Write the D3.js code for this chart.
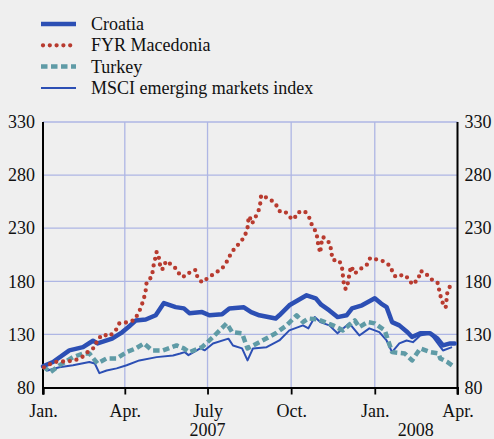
<!DOCTYPE html>
<html><head><meta charset="utf-8">
<script src="https://cdn.jsdelivr.net/npm/d3@7"></script>
<style>
html,body{margin:0;padding:0;background:#efefef;}
svg{display:block;font-family:"Liberation Serif","Times New Roman",serif;}
</style></head>
<body>
<svg id="chart" width="494" height="439"></svg>
<script>
const seriesNames = ["Croatia", "FYR Macedonia", "Turkey", "MSCI emerging markets index"];
const yTicks = [80, 130, 180, 230, 280, 330];
const xTickDates = ["2007-01-01","2007-04-01","2007-07-01","2007-10-01","2008-01-01","2008-04-01"];
const xTickLabels = ["Jan.","Apr.","July","Oct.","Jan.","Apr."];
const yearLabels = [["2007","2007-07-01"],["2008","2008-02-15"]];

const croatia = [
["2007-01-01",100],["2007-01-12",104],["2007-01-30",115],["2007-02-14",118],["2007-02-25",124],
["2007-03-02",121.5],["2007-03-18",126],["2007-03-29",132],["2007-04-05",137],["2007-04-13",143],
["2007-04-24",144],["2007-05-05",148],["2007-05-14",159.5],["2007-05-27",155.7],["2007-06-05",154.5],
["2007-06-11",150],["2007-06-25",151],["2007-07-03",148],["2007-07-17",149],["2007-07-25",154.5],
["2007-08-10",155.5],["2007-08-18",151],["2007-08-27",148],["2007-09-14",145],["2007-09-18",148],
["2007-09-29",157.4],["2007-10-18",166.8],["2007-10-28",164],["2007-11-03",158],["2007-11-12",152.6],
["2007-11-21",146.3],["2007-12-01",148],["2007-12-07",154.5],["2007-12-18",157.4],["2008-01-01",164],
["2008-01-08",159],["2008-01-14",155.7],["2008-01-20",141.6],["2008-01-28",138.5],["2008-02-06",132],
["2008-02-11",127.5],["2008-02-20",131],["2008-03-02",131],["2008-03-10",126],["2008-03-16",119.6],
["2008-03-24",121.5],["2008-03-29",121.5]
];
const macedonia = [
["2007-01-02",99],["2007-01-11",103],["2007-01-17",104.5],["2007-01-27",104.5],["2007-02-05",105.5],
["2007-02-13",108.6],["2007-02-19",113.3],["2007-02-27",118],["2007-03-02",125.2],["2007-03-08",130],
["2007-03-15",128.1],["2007-03-22",133.8],["2007-03-26",140.4],["2007-04-03",141.3],["2007-04-11",143.2],
["2007-04-16",149.8],["2007-04-19",156],["2007-04-22",163.7],["2007-04-24",171.5],["2007-04-25",179],
["2007-05-01",184.7],["2007-05-02",192.3],["2007-05-04",199.8],["2007-05-06",207.6],["2007-05-08",206],
["2007-05-09",198.2],["2007-05-11",191],["2007-05-14",192.3],["2007-05-16",198.9],["2007-05-23",195.4],
["2007-05-29",190.4],["2007-06-01",184.7],["2007-06-07",184.7],["2007-06-13",189.7],["2007-06-18",190.7],
["2007-06-20",183.5],["2007-06-25",179],["2007-07-02",183.5],["2007-07-09",187.5],["2007-07-17",192],
["2007-07-22",198.2],["2007-07-26",204.8],["2007-07-31",211.4],["2007-08-06",216.5],["2007-08-11",222.5],
["2007-08-14",230.3],["2007-08-15",238.2],["2007-08-16",241.3],["2007-08-19",234.4],["2007-08-22",239.2],
["2007-08-26",246],["2007-08-28",253.3],["2007-08-29",261.1],["2007-09-02",259.6],["2007-09-08",257.1],
["2007-09-14",252.7],["2007-09-18",246],["2007-09-24",246],["2007-09-30",240.1],["2007-10-04",238.2],
["2007-10-08",244.8],["2007-10-16",246],["2007-10-21",239.7],["2007-10-24",232.5],["2007-10-29",225.6],
["2007-10-30",218],["2007-11-01",210.2],["2007-11-02",206.7],["2007-11-03",214.9],["2007-11-05",221.8],
["2007-11-08",219.4],["2007-11-13",215.5],["2007-11-14",207.6],["2007-11-16",200],["2007-11-23",199.5],
["2007-11-26",192.5],["2007-11-27",184.7],["2007-11-28",177.2],["2007-11-30",172.5],["2007-12-03",179.7],
["2007-12-04",187.3],["2007-12-06",194.2],["2007-12-10",187.3],["2007-12-15",191],["2007-12-23",195.1],
["2007-12-27",202],["2008-01-04",200.4],["2008-01-11",198.7],["2008-01-18",194.4],["2008-01-21",187.8],
["2008-01-24",184.1],["2008-02-02",186.3],["2008-02-08",181.9],["2008-02-11",176.9],["2008-02-18",181.9],
["2008-02-20",189.7],["2008-02-25",188.5],["2008-03-02",182.5],["2008-03-10",178.8],["2008-03-12",171.2],
["2008-03-14",163.7],["2008-03-17",156.7],["2008-03-19",155.2],["2008-03-20",163],["2008-03-21",170.6],
["2008-03-24",175.6],["2008-03-30",174.6]
];
const turkey = [
["2007-01-01",100],["2007-01-09",94.4],["2007-01-19",100.8],["2007-02-03",108.6],["2007-02-14",112],
["2007-02-21",112],["2007-03-02",102.6],["2007-03-12",107.4],["2007-03-23",107.4],["2007-04-03",113.3],
["2007-04-13",116.8],["2007-04-22",121.5],["2007-05-01",114.9],["2007-05-13",114.9],["2007-05-28",119.6],
["2007-06-05",116.8],["2007-06-11",113.3],["2007-06-25",118],["2007-07-07",127.5],["2007-07-22",140.4],
["2007-07-28",132.2],["2007-08-08",131],["2007-08-14",116.8],["2007-08-27",122.7],["2007-09-14",131],
["2007-09-26",138.5],["2007-10-07",148],["2007-10-14",141.6],["2007-10-20",145],["2007-10-31",144],
["2007-11-16",138.5],["2007-11-27",133.8],["2007-12-10",143.2],["2007-12-15",136.9],["2007-12-24",141.6],
["2008-01-01",140.4],["2008-01-12",133.8],["2008-01-20",113.3],["2008-02-03",112],["2008-02-11",105.5],
["2008-02-20",116.8],["2008-03-02",113.3],["2008-03-11",112],["2008-03-13",107.4],["2008-03-21",103.9],
["2008-03-29",99.1]
];
const msci = [
["2007-01-01",100],["2007-01-06",96],["2007-01-19",99],["2007-02-03",101],["2007-02-21",104],
["2007-02-27",102.6],["2007-03-04",93.5],["2007-03-12",96],["2007-03-23",98],["2007-04-03",101],
["2007-04-17",105.5],["2007-05-06",108.6],["2007-05-24",110.2],["2007-06-01",112],["2007-06-06",113.3],
["2007-06-10",110.5],["2007-06-23",116.8],["2007-06-28",115],["2007-07-07",121.5],["2007-07-24",126],
["2007-07-29",119.6],["2007-08-08",116.8],["2007-08-14",105.5],["2007-08-20",116.8],["2007-09-04",118],
["2007-09-18",124.3],["2007-09-29",133.8],["2007-10-14",138.5],["2007-10-20",135.7],["2007-10-27",146.3],
["2007-11-02",141.6],["2007-11-12",138.5],["2007-11-21",131],["2007-12-04",140.4],["2007-12-15",129],
["2007-12-26",135.7],["2008-01-06",132.2],["2008-01-14",124.3],["2008-01-20",113.3],["2008-01-28",121.5],
["2008-02-05",124.3],["2008-02-12",122.7],["2008-02-20",129],["2008-03-02",131],["2008-03-16",114.9],
["2008-03-26",118]
];

(function () {
const parse = d3.timeParse("%Y-%m-%d");
const svg = d3.select("#chart");
const W = 494, H = 439;
svg.append("rect").attr("width", W).attr("height", H).attr("fill", "#efefef");

const pL = 43, pR = 457.5, pT = 122, pB = 387.5;
const x = d3.scaleTime().domain([parse("2007-01-01"), parse("2008-04-01")]).range([pL, pR]);
const y = d3.scaleLinear().domain([80, 330]).range([pB, pT]);

const gridColor = "#aeb6e4";
svg.append("g").selectAll("line").data(yTicks.filter(v => v > 80)).join("line")
  .attr("x1", pL).attr("x2", pR).attr("y1", d => y(d)).attr("y2", d => y(d))
  .attr("stroke", gridColor).attr("stroke-width", 1.3);
svg.append("g").selectAll("line").data(xTickDates.slice(1, 5)).join("line")
  .attr("x1", d => x(parse(d))).attr("x2", d => x(parse(d))).attr("y1", pT).attr("y2", pB)
  .attr("stroke", gridColor).attr("stroke-width", 1.3);

const yAxisL = d3.axisLeft(y).tickValues(yTicks).tickSize(0).tickPadding(8);
const gL = svg.append("g").attr("transform", `translate(${pL},0)`).call(yAxisL);
const yAxisR = d3.axisRight(y).tickValues(yTicks).tickSize(0).tickPadding(7);
const gR = svg.append("g").attr("transform", `translate(${pR},0)`).call(yAxisR);
const xAxis = d3.axisBottom(x).tickValues(xTickDates.map(parse)).tickSize(7).tickPadding(6)
  .tickFormat((d, i) => xTickLabels[i]);
const gX = svg.append("g").attr("transform", `translate(0,${pB})`).call(xAxis);
[gL, gR, gX].forEach(g => {
  g.select(".domain").attr("stroke", "#000").attr("stroke-width", 2);
  g.selectAll(".tick line").attr("stroke", "#000").attr("stroke-width", 1.8);
  g.selectAll("text").attr("fill", "#111").attr("font-size", 18)
    .attr("font-family", '"Liberation Serif","Times New Roman",serif');
});
gL.select(".domain").attr("d", `M0,${pT}V${pB + 7}`);
gR.select(".domain").attr("d", `M0,${pT}V${pB + 7}`);
gX.selectAll(".tick text").attr("dy", "0.9em");

svg.append("g").selectAll("text").data(yearLabels).join("text")
  .attr("x", d => x(parse(d[1]))).attr("y", 435.5)
  .attr("text-anchor", "middle").attr("font-size", 18).attr("fill", "#111")
  .text(d => d[0]);

const line = d3.line().x(d => x(parse(d[0]))).y(d => y(d[1]));

const styles = [
  {data: msci, color: "#2c4fb4", width: 2, dash: null, cap: "butt"},
  {data: turkey, color: "#5f9ba6", width: 4.5, dash: "6.5 3.5", cap: "butt"},
  {data: croatia, color: "#2c4fb4", width: 4.5, dash: null, cap: "round"},
  {data: macedonia, color: "#b83b2f", width: 4.3, dash: "0 6.8", cap: "round"}
];
svg.append("g").selectAll("path").data(styles).join("path")
  .attr("d", d => line(d.data)).attr("fill", "none")
  .attr("stroke", d => d.color).attr("stroke-width", d => d.width)
  .attr("stroke-dasharray", d => d.dash).attr("stroke-linecap", d => d.cap)
  .attr("stroke-linejoin", "round");

const legendStyles = [
  {name: seriesNames[0], color: "#2c4fb4", width: 4.5, dash: null, cap: "butt"},
  {name: seriesNames[1], color: "#b83b2f", width: 4.3, dash: "0 6.8", cap: "round"},
  {name: seriesNames[2], color: "#5f9ba6", width: 4.5, dash: "6.5 3.5", cap: "butt"},
  {name: seriesNames[3], color: "#2c4fb4", width: 2, dash: null, cap: "butt"}
];
const lg = svg.append("g").selectAll("g").data(legendStyles).join("g")
  .attr("transform", (d, i) => `translate(0,${24 + i * 21.3})`);
lg.append("line").attr("x1", d => d.dash && d.cap === "round" ? 43 : 41).attr("x2", 76)
  .attr("stroke", d => d.color).attr("stroke-width", d => d.width)
  .attr("stroke-dasharray", d => d.dash).attr("stroke-linecap", d => d.cap);
lg.append("text").attr("x", 91).attr("dy", "0.33em").attr("font-size", 18).attr("fill", "#111")
  .text(d => d.name);
})();
</script>
</body></html>
